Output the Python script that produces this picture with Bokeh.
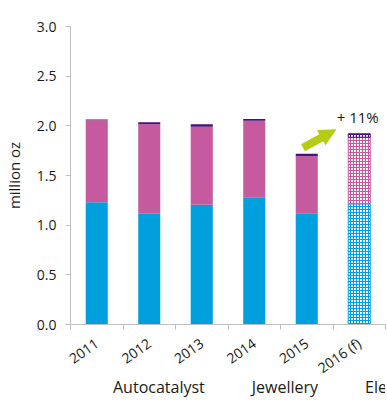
from bokeh.plotting import figure
from bokeh.layouts import column
from bokeh.models import (ColumnDataSource, Range1d, FixedTicker, PrintfTickFormatter,
                          Legend, LegendItem, Arrow, NormalHead)
from bokeh.core.properties import value
from bokeh.embed import file_html
from bokeh.resources import INLINE

years = ["2011", "2012", "2013", "2014", "2015", "2016 (f)"]
autocatalyst = [1.23, 1.115, 1.205, 1.28, 1.12, 1.215]
jewellery = [0.825, 0.90, 0.785, 0.77, 0.575, 0.67]
electrical = [0.01, 0.02, 0.025, 0.02, 0.025, 0.035]
forecast_flag = [False, False, False, False, False, True]
y_ticks = [0.0, 0.5, 1.0, 1.5, 2.0, 2.5, 3.0]
growth_label = "+ 11%"
arrow_from = (4.43, 1.78)
arrow_to = (5.05, 1.96)
label_pos = (5.47, 2.09)

series = ["autocatalyst", "jewellery", "electrical"]
names = ["Autocatalyst", "Jewellery", "Electrical"]
colors = ["#00A0DE", "#C65A9E", "#4B1079"]

FONT = "Open Sans"
TXT = "#1a1a1a"
AXC = "#bfbfbf"

xs = [i + 0.5 for i in range(len(years))]
act = [i for i, f in enumerate(forecast_flag) if not f]
fc = [i for i, f in enumerate(forecast_flag) if f]

def sub(idx):
    return ColumnDataSource(dict(
        x=[xs[i] for i in idx],
        autocatalyst=[autocatalyst[i] for i in idx],
        jewellery=[jewellery[i] for i in idx],
        electrical=[electrical[i] for i in idx],
    ))

p = figure(width=387, height=403, output_backend="svg", toolbar_location=None,
           x_range=Range1d(0, 6), y_range=Range1d(0, 3.0),
           min_border_left=69, min_border_right=2, min_border_top=26,
           min_border_bottom=79)
p.outline_line_color = None
p.xgrid.visible = False
p.ygrid.visible = False

p.vbar_stack(series, x="x", width=0.42, source=sub(act),
             color=colors, line_width=0)
p.vbar_stack(series, x="x", width=0.42, source=sub(fc),
             fill_color="white", line_color=colors, line_width=1,
             hatch_color=colors, hatch_pattern="cross", hatch_scale=3,
             hatch_weight=1.2)

# axes
p.yaxis.ticker = FixedTicker(ticks=y_ticks)
p.yaxis.formatter = PrintfTickFormatter(format="%.1f")
p.yaxis.axis_line_color = AXC
p.yaxis.major_tick_line_color = AXC
p.yaxis.major_tick_out = 5
p.yaxis.major_tick_in = 0
p.yaxis.minor_tick_line_color = None
p.yaxis.major_label_text_font = FONT
p.yaxis.major_label_text_font_size = "14px"
p.yaxis.major_label_text_color = TXT
p.yaxis.major_label_standoff = 9
p.yaxis.axis_label = "million oz"
p.yaxis.axis_label_text_font = FONT
p.yaxis.axis_label_text_font_size = "15px"
p.yaxis.axis_label_text_font_style = "normal"
p.yaxis.axis_label_text_color = TXT
p.yaxis.axis_label_standoff = 10

p.xaxis.ticker = FixedTicker(ticks=xs, minor_ticks=list(range(len(years) + 1)))
p.xaxis.major_label_overrides = {x: y for x, y in zip(xs, years)}
p.xaxis.axis_line_color = AXC
p.xaxis.major_tick_line_color = None
p.xaxis.major_tick_out = 0
p.xaxis.minor_tick_line_color = AXC
p.xaxis.minor_tick_out = 5
p.xaxis.minor_tick_in = 0
p.xaxis.major_label_orientation = 0.61
p.xaxis.major_label_text_font = FONT
p.xaxis.major_label_text_font_size = "14px"
p.xaxis.major_label_text_color = TXT
p.xaxis.major_label_standoff = 12

# growth arrow and label
p.add_layout(Arrow(x_start=arrow_from[0], y_start=arrow_from[1],
                   x_end=arrow_to[0], y_end=arrow_to[1],
                   line_color="#B5CC12", line_width=8,
                   end=NormalHead(size=16, fill_color="#B5CC12", line_color="#B5CC12")))
p.text(x=[label_pos[0]], y=[label_pos[1]], text=[growth_label],
       text_font=value(FONT), text_font_size="15px", text_color=TXT,
       text_align="center", text_baseline="middle")

# legend strip, overlapping the empty bottom band of the chart
lg = figure(width=387, height=30, output_backend="svg", toolbar_location=None,
            x_range=Range1d(0, 1), y_range=Range1d(0, 1),
            x_axis_type=None, y_axis_type=None, min_border=0)
lg.outline_line_color = None
lg.background_fill_alpha = 0
lg.border_fill_alpha = 0
swatches = [lg.vbar(x=[], top=[], width=0.5, fill_color=c, line_width=0) for c in colors]
legend = Legend(items=[LegendItem(label=n, renderers=[r]) for n, r in zip(names, swatches)],
                orientation="horizontal", location=(27, 5),
                label_text_font=FONT, label_text_font_size="16px",
                label_text_color=TXT, glyph_width=12, glyph_height=12,
                label_standoff=4, spacing=31, padding=0, margin=0,
                border_line_color=None, background_fill_alpha=0)
lg.add_layout(legend, "center")
lg.margin = (-30, 0, 0, 0)

layout = column(p, lg, spacing=0)
open("out.html", "w").write(file_html(layout, INLINE))
